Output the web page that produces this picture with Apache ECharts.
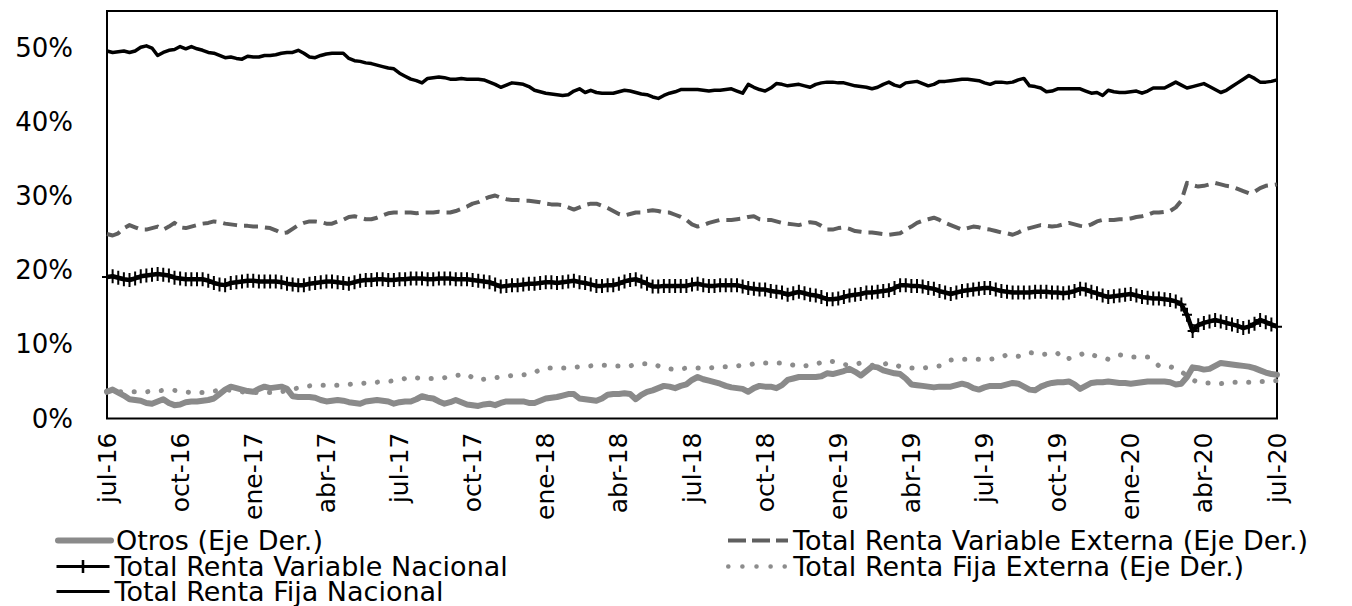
<!DOCTYPE html>
<html>
<head>
<meta charset="utf-8">
<script src="https://cdn.jsdelivr.net/npm/echarts/dist/echarts.min.js"></script>
<style>
  html, body { margin: 0; padding: 0; background: #ffffff; }
  #chart { width: 1352px; height: 606px; }
</style>
</head>
<body>
<div id="chart"></div>
<script>
// Quarterly tick labels; the data is weekly, 13 weeks per quarter
const tickLabels = ['jul-16', 'oct-16', 'ene-17', 'abr-17', 'jul-17', 'oct-17', 'ene-18', 'abr-18',
  'jul-18', 'oct-18', 'ene-19', 'abr-19', 'jul-19', 'oct-19', 'ene-20', 'abr-20', 'jul-20'];
const weeksPerQuarter = 13;

// Portfolio shares, % of total (weekly)
const otros = [
  3.6, 3.9, 3.5, 3.1, 2.6, 2.5, 2.4, 2.1, 2.0, 2.3, 2.6, 2.1, 1.8,
  1.9, 2.2, 2.3, 2.3, 2.4, 2.5, 2.7, 3.3, 3.9, 4.3, 4.1, 3.9, 3.7,
  3.6, 4.0, 4.3, 4.1, 4.2, 4.3, 4.0, 3.0, 2.9, 2.9, 2.9, 2.8, 2.5,
  2.3, 2.4, 2.5, 2.4, 2.2, 2.1, 2.0, 2.3, 2.4, 2.5, 2.4, 2.3, 2.0,
  2.2, 2.3, 2.3, 2.6, 3.0, 2.8, 2.7, 2.3, 2.0, 2.2, 2.5, 2.2, 1.9,
  1.8, 1.7, 1.9, 2.0, 1.8, 2.1, 2.3, 2.3, 2.3, 2.3, 2.1, 2.1, 2.4,
  2.7, 2.8, 2.9, 3.1, 3.3, 3.3, 2.7, 2.6, 2.5, 2.4, 2.7, 3.2, 3.3,
  3.3, 3.4, 3.3, 2.6, 3.2, 3.6, 3.8, 4.1, 4.4, 4.3, 4.1, 4.4, 4.6,
  5.2, 5.6, 5.3, 5.1, 4.9, 4.7, 4.4, 4.2, 4.1, 4.0, 3.6, 4.1, 4.4,
  4.3, 4.3, 4.1, 4.5, 5.2, 5.4, 5.6, 5.6, 5.6, 5.6, 5.7, 6.1, 6.0,
  6.2, 6.4, 6.7, 6.3, 5.8, 6.4, 7.0, 6.9, 6.5, 6.3, 6.1, 6.0, 5.4,
  4.6, 4.5, 4.4, 4.3, 4.2, 4.3, 4.3, 4.3, 4.5, 4.7, 4.5, 4.1, 3.9,
  4.2, 4.4, 4.4, 4.4, 4.6, 4.8, 4.7, 4.3, 3.9, 3.8, 4.3, 4.6, 4.8,
  4.9, 4.9, 5.0, 4.6, 4.0, 4.4, 4.8, 4.9, 4.9, 5.0, 4.9, 4.8, 4.8,
  4.7, 4.8, 4.9, 5.0, 5.0, 5.0, 5.0, 4.9, 4.6, 4.7, 5.6, 6.9, 6.8,
  6.6, 6.7, 7.1, 7.5, 7.4, 7.3, 7.2, 7.1, 7.0, 6.8, 6.5, 6.2, 6.0,
  5.9
];

const rentaVariableExterna = [
  24.9, 24.7, 25.0, 25.7, 26.1, 25.8, 25.5, 25.5, 25.7, 25.9, 25.5, 25.9, 26.4,
  25.8, 25.7, 25.9, 26.1, 26.3, 26.4, 26.6, 26.5, 26.3, 26.2, 26.1, 26.0, 26.0,
  25.9, 25.9, 25.8, 25.7, 25.4, 25.0, 25.1, 25.6, 26.1, 26.4, 26.6, 26.6, 26.5,
  26.3, 26.3, 26.6, 26.8, 27.2, 27.3, 27.1, 26.9, 26.9, 27.1, 27.4, 27.7, 27.8,
  27.8, 27.8, 27.8, 27.7, 27.8, 27.8, 27.8, 27.9, 27.8, 27.8, 28.0, 28.3, 28.6,
  29.0, 29.2, 29.6, 29.9, 30.1, 29.8, 29.6, 29.5, 29.5, 29.4, 29.4, 29.3, 29.2,
  29.0, 28.9, 28.9, 28.8, 28.5, 28.2, 28.5, 28.8, 29.0, 29.0, 28.7, 28.4, 28.0,
  27.6, 27.4, 27.6, 27.8, 27.8, 28.0, 28.1, 28.0, 27.8, 27.8, 27.5, 27.2, 26.8,
  26.2, 25.9, 26.1, 26.4, 26.6, 26.8, 26.8, 26.8, 26.9, 27.0, 27.2, 27.3, 26.9,
  26.8, 26.8, 26.6, 26.4, 26.3, 26.2, 26.1, 26.3, 26.5, 26.4, 26.0, 25.5, 25.5,
  25.7, 25.8, 25.6, 25.3, 25.2, 25.1, 25.1, 25.0, 24.9, 24.8, 24.9, 25.0, 25.5,
  25.9, 26.4, 26.7, 26.9, 27.1, 26.8, 26.4, 26.1, 25.8, 25.5, 25.7, 25.9, 25.8,
  25.6, 25.5, 25.3, 25.1, 25.0, 24.8, 25.1, 25.5, 25.7, 25.9, 26.1, 26.0, 25.9,
  26.0, 26.2, 26.4, 26.2, 26.0, 25.9, 26.2, 26.6, 26.8, 26.8, 26.8, 26.9, 26.9,
  27.0, 27.2, 27.3, 27.5, 27.8, 27.8, 27.9, 28.0, 28.5, 29.4, 31.8, 31.5, 31.3,
  31.4, 31.6, 31.8, 31.6, 31.4, 31.3, 31.0, 30.7, 30.4, 30.6, 31.1, 31.4, 31.5,
  31.6
];

const rentaVariableNacional = [
  19.1, 19.2, 19.0, 18.8, 18.7, 18.9, 19.2, 19.3, 19.4, 19.5, 19.4, 19.3, 19.0,
  18.9, 18.8, 18.8, 18.8, 18.8, 18.6, 18.3, 18.1, 18.0, 18.3, 18.4, 18.5, 18.6,
  18.6, 18.5, 18.5, 18.5, 18.5, 18.4, 18.2, 18.1, 18.0, 18.0, 18.2, 18.3, 18.4,
  18.5, 18.5, 18.4, 18.3, 18.2, 18.4, 18.6, 18.7, 18.7, 18.8, 18.8, 18.7, 18.7,
  18.8, 18.8, 18.9, 18.9, 18.9, 18.8, 18.8, 18.9, 18.9, 18.9, 18.8, 18.8, 18.8,
  18.7, 18.6, 18.5, 18.4, 18.1, 17.8, 17.9, 18.0, 18.0, 18.1, 18.2, 18.2, 18.3,
  18.4, 18.4, 18.3, 18.4, 18.5, 18.6, 18.4, 18.3, 18.1, 17.9, 17.9, 18.0, 18.0,
  18.2, 18.5, 18.7, 18.8, 18.5, 18.2, 17.8, 17.8, 17.9, 17.9, 17.9, 17.9, 17.9,
  18.1, 18.2, 18.0, 17.9, 17.9, 18.0, 18.0, 18.0, 18.0, 17.8, 17.6, 17.5, 17.4,
  17.4, 17.2, 17.1, 17.0, 16.7, 16.9, 17.1, 16.9, 16.7, 16.6, 16.4, 16.1, 16.1,
  16.2, 16.4, 16.6, 16.7, 16.8, 17.0, 17.0, 17.1, 17.2, 17.3, 17.6, 18.0, 18.0,
  17.9, 17.9, 17.8, 17.6, 17.5, 17.2, 17.0, 16.8, 17.0, 17.2, 17.3, 17.4, 17.5,
  17.6, 17.6, 17.4, 17.2, 17.1, 17.0, 17.0, 17.0, 17.0, 17.1, 17.1, 17.1, 17.0,
  17.0, 16.9, 17.0, 17.2, 17.5, 17.4, 17.1, 16.9, 16.6, 16.4, 16.5, 16.6, 16.7,
  16.8, 16.6, 16.4, 16.3, 16.2, 16.2, 16.1, 16.0, 15.8, 15.4, 14.0, 11.8, 12.6,
  12.9, 13.1, 13.3, 13.1, 12.9, 12.7, 12.5, 12.2, 12.4, 12.8, 13.3, 13.0, 12.7,
  12.4
];

const rentaFijaExterna = [
  3.7, 3.7, 3.6, 3.6, 3.6, 3.6, 3.6, 3.6, 3.7, 3.7, 3.8, 3.8, 3.8,
  3.7, 3.6, 3.5, 3.5, 3.5, 3.6, 3.7, 3.8, 3.9, 3.8, 3.7, 3.6, 3.5,
  3.5, 3.5, 3.5, 3.5, 3.5, 3.6, 3.8, 4.0, 4.1, 4.2, 4.4, 4.5, 4.5,
  4.5, 4.5, 4.5, 4.5, 4.6, 4.7, 4.7, 4.8, 4.8, 4.9, 5.0, 5.0, 5.1,
  5.2, 5.4, 5.6, 5.5, 5.4, 5.4, 5.4, 5.4, 5.5, 5.7, 5.8, 5.9, 6.0,
  5.5, 5.2, 5.3, 5.4, 5.5, 5.6, 5.7, 5.8, 5.9, 5.9, 6.0, 6.2, 6.6,
  6.8, 6.8, 6.8, 6.8, 6.8, 6.9, 7.0, 7.1, 7.1, 7.2, 7.2, 7.2, 7.1,
  7.1, 7.0, 7.1, 7.3, 7.4, 7.4, 7.4, 7.1, 6.8, 6.7, 6.6, 6.7, 6.8,
  6.8, 6.8, 6.8, 6.8, 6.9, 7.0, 7.0, 7.0, 7.1, 7.2, 7.2, 7.4, 7.5,
  7.5, 7.5, 7.5, 7.5, 7.4, 7.2, 7.0, 7.1, 7.2, 7.3, 7.6, 7.8, 7.7,
  7.5, 7.3, 7.2, 7.3, 7.5, 7.4, 7.2, 7.1, 7.3, 7.5, 7.3, 7.0, 6.9,
  6.8, 6.8, 6.8, 6.9, 7.0, 7.1, 7.5, 7.9, 8.0, 8.0, 8.0, 8.0, 8.0,
  8.0, 8.0, 8.1, 8.3, 8.6, 8.5, 8.4, 8.6, 8.9, 8.8, 8.6, 8.7, 8.9,
  8.8, 8.0, 8.1, 8.3, 8.6, 8.9, 8.6, 8.4, 8.2, 8.0, 8.3, 8.6, 8.5,
  8.3, 8.3, 8.3, 8.3, 7.8, 7.1, 7.0, 7.0, 6.7, 6.3, 5.8, 5.2, 4.9,
  4.8, 4.8, 4.7, 4.7, 4.8, 4.9, 4.9, 4.9, 4.9, 5.0, 5.0, 5.0, 5.1,
  5.1
];

const rentaFijaNacional = [
  49.6, 49.4, 49.5, 49.6, 49.4, 49.6, 50.1, 50.3, 50.0, 49.0, 49.4, 49.7, 49.8,
  50.2, 49.9, 50.2, 49.9, 49.7, 49.4, 49.3, 49.0, 48.7, 48.8, 48.6, 48.5, 48.9,
  48.8, 48.8, 49.0, 49.0, 49.1, 49.3, 49.4, 49.4, 49.7, 49.3, 48.8, 48.7, 49.0,
  49.2, 49.3, 49.3, 49.3, 48.6, 48.3, 48.2, 48.0, 47.9, 47.7, 47.5, 47.3, 47.2,
  46.6, 46.2, 45.8, 45.6, 45.3, 45.9, 46.0, 46.1, 46.0, 45.8, 45.8, 45.9, 45.8,
  45.8, 45.8, 45.7, 45.4, 45.1, 44.7, 45.0, 45.3, 45.2, 45.1, 44.8, 44.3, 44.1,
  43.9, 43.8, 43.7, 43.6, 43.7, 44.2, 44.5, 44.0, 44.3, 44.0, 43.9, 43.9, 43.9,
  44.1, 44.3, 44.2, 44.0, 43.8, 43.7, 43.4, 43.2, 43.6, 43.9, 44.1, 44.4, 44.4,
  44.4, 44.4, 44.3, 44.2, 44.3, 44.3, 44.4, 44.5, 44.2, 43.9, 45.1, 44.7, 44.4,
  44.2, 44.6, 45.2, 45.1, 44.9, 45.0, 45.1, 44.9, 44.7, 45.1, 45.3, 45.4, 45.4,
  45.3, 45.3, 45.1, 44.9, 44.8, 44.7, 44.5, 44.7, 45.1, 45.4, 45.0, 44.8, 45.3,
  45.4, 45.5, 45.2, 44.9, 45.1, 45.5, 45.5, 45.6, 45.7, 45.8, 45.8, 45.7, 45.6,
  45.3, 45.1, 45.4, 45.4, 45.3, 45.4, 45.7, 45.9, 44.9, 44.8, 44.6, 44.1, 44.2,
  44.5, 44.5, 44.5, 44.5, 44.5, 44.2, 43.9, 44.0, 43.6, 44.3, 44.1, 44.0, 44.0,
  44.1, 44.2, 43.9, 44.2, 44.6, 44.6, 44.6, 45.0, 45.4, 45.0, 44.6, 44.8, 45.0,
  45.2, 44.8, 44.4, 44.0, 44.3, 44.8, 45.3, 45.8, 46.3, 45.9, 45.4, 45.4, 45.5,
  45.7
];

// Weekly category axis: a label every 13 weeks, blank otherwise
const categories = rentaFijaNacional.map(function (_, i) {
  return i % weeksPerQuarter === 0 ? tickLabels[i / weeksPerQuarter] : '';
});

const FONT = 'DejaVu Sans';
// "+" marker drawn as a path (vertical bar plus horizontal bar)
const plusMarker = 'path://M4,0H6V14H4Z M0,6H10V8H0Z';

const STYLES = {
  otros: { color: '#8a8a8a', width: 6, cap: 'round', join: 'round' },
  rve:   { color: '#5f5f5f', width: 4, type: [14, 7], join: 'round' },
  rvn:   { color: '#000000', width: 4.5, join: 'round' },
  rfe:   { color: '#8c8c8c', width: 5, type: [0.1, 13.5], cap: 'round' },
  rfn:   { color: '#000000', width: 3.5, join: 'round' }
};

// One legend block per entry so each sits at its own spot in the two-column key
function legendEntry(name, left, top, iconWidth, lineStyle, showSymbol) {
  return {
    data: [name],
    left: left, top: top, padding: 0,
    itemWidth: iconWidth, itemHeight: 16,
    selectedMode: false,
    lineStyle: lineStyle,
    itemStyle: showSymbol ? { color: '#000000' } : { opacity: 0 },
    textStyle: { color: '#000000', fontFamily: FONT, fontSize: 27, lineHeight: 26 }
  };
}

const chart = echarts.init(document.getElementById('chart'), null, { renderer: 'svg' });

chart.setOption({
  animation: false,
  backgroundColor: '#ffffff',
  grid: {
    left: 107, right: 75, top: 11, bottom: 187.5,
    show: true, borderColor: '#000000', borderWidth: 2, backgroundColor: 'transparent'
  },
  xAxis: {
    type: 'category',
    data: categories,
    boundaryGap: false,
    axisLine: { show: false },
    axisTick: { show: false },
    splitLine: { show: false },
    axisLabel: {
      interval: weeksPerQuarter - 1,
      rotate: 90,
      margin: 14,
      color: '#000000',
      fontFamily: FONT,
      fontSize: 25
    }
  },
  yAxis: {
    type: 'value',
    min: 0, max: 55, interval: 10,
    axisLine: { show: false },
    axisTick: { show: false },
    splitLine: { show: false },
    axisLabel: {
      margin: 34,
      color: '#000000',
      fontFamily: FONT,
      fontSize: 26,
      formatter: function (v) { return v > 50 ? '' : v + '%'; }
    }
  },
  legend: [
    legendEntry('Otros (Eje Der.)', 55, 527, 53, { color: '#8a8a8a', width: 6, cap: 'round' }, false),
    legendEntry('Total Renta Variable Nacional', 55, 553, 53, { color: '#000000', width: 3 }, true),
    legendEntry('Total Renta Fija Nacional', 55, 578, 53, { color: '#000000', width: 3 }, false),
    legendEntry('Total Renta Variable Externa (Eje Der.)', 726, 527, 60, { color: '#5f5f5f', width: 4, type: [18, 6] }, false),
    legendEntry('Total Renta Fija Externa (Eje Der.)', 726, 553, 60, { color: '#8c8c8c', width: 4.5, type: [0.1, 14], cap: 'round' }, false)
  ],
  series: [
    {
      name: 'Otros (Eje Der.)', type: 'line', data: otros,
      symbol: 'none', lineStyle: STYLES.otros, itemStyle: { color: STYLES.otros.color }
    },
    {
      name: 'Total Renta Variable Externa (Eje Der.)', type: 'line', data: rentaVariableExterna,
      symbol: 'none', lineStyle: STYLES.rve, itemStyle: { color: STYLES.rve.color }
    },
    {
      name: 'Total Renta Variable Nacional', type: 'line', data: rentaVariableNacional,
      symbol: plusMarker, symbolSize: [10, 14], showAllSymbol: true,
      lineStyle: STYLES.rvn, itemStyle: { color: STYLES.rvn.color }
    },
    {
      name: 'Total Renta Fija Externa (Eje Der.)', type: 'line', data: rentaFijaExterna,
      symbol: 'none', lineStyle: STYLES.rfe, itemStyle: { color: STYLES.rfe.color }
    },
    {
      name: 'Total Renta Fija Nacional', type: 'line', data: rentaFijaNacional,
      symbol: 'none', lineStyle: STYLES.rfn, itemStyle: { color: STYLES.rfn.color }
    }
  ]
});
</script>
</body>
</html>
